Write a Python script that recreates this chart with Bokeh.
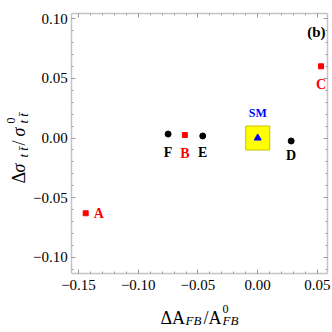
import math
from bokeh.plotting import figure
from bokeh.models import (Range1d, LinearAxis, SingleIntervalTicker,
                          CustomJSTickFormatter, Label, ColumnDataSource)
from bokeh.core.properties import value
from bokeh.embed import file_html
from bokeh.resources import INLINE

# ---------------- data ----------------
red_names = ["A", "B", "C"]
red_dA = [-0.144, -0.061, 0.053]
red_dsig = [-0.063, 0.0025, 0.060]

black_names = ["D", "E", "F"]
black_dA = [0.028, -0.046, -0.075]
black_dsig = [-0.0025, 0.0017, 0.0033]

sm_names = ["SM"]
sm_dA = [0.0]
sm_dsig = [0.0]

# plot box (axis frame) limits
x_box = (-0.1557, 0.0586)
y_box = (-0.1134, 0.1042)
# full canvas extent in data units (frame covers whole canvas)
x_canvas = (-0.2153, 0.0626)
y_canvas = (-0.1628, 0.1151)

# label placement (screen pixels, styling only)
red_dx = [8, 0, 0]
red_dy = [0, 18, 18]
red_align = ["left", "center", "center"]
black_dx = [0, 0, 0]
black_dy = [15, 17, 18]

FONT = "Liberation Serif"
W = H = 332

p = figure(width=W, height=H, output_backend="svg", toolbar_location=None,
           x_range=Range1d(*x_canvas), y_range=Range1d(*y_canvas),
           x_axis_type=None, y_axis_type=None, min_border=0)
p.outline_line_color = None
p.background_fill_color = "white"
p.border_fill_color = "white"

fmt = CustomJSTickFormatter(code="""
    const s = Math.abs(tick).toFixed(2);
    return (tick < -1e-9 ? '\u2212' : '') + s;
""")


def make_axis(show_labels, loc, bounds, standoff=4):
    ax = LinearAxis(ticker=SingleIntervalTicker(interval=0.05, num_minor_ticks=5),
                    formatter=fmt, fixed_location=loc, bounds=bounds,
                    axis_line_color="#c4c4c4", axis_line_width=1.5,
                    major_tick_line_color="#9a9a9a", minor_tick_line_color="#9a9a9a",
                    major_tick_in=4, major_tick_out=0,
                    minor_tick_in=2, minor_tick_out=0,
                    major_label_text_font=FONT,
                    major_label_text_font_size="15px",
                    major_label_text_color="black",
                    major_label_standoff=standoff)
    if not show_labels:
        ax.major_label_text_color = None
    return ax


p.add_layout(make_axis(True, y_box[0], x_box, standoff=7), "below")
p.add_layout(make_axis(True, x_box[0], y_box, standoff=4), "left")
p.add_layout(make_axis(False, y_box[1], x_box), "above")
p.add_layout(make_axis(False, x_box[1], y_box), "right")

# SM highlight box
p.scatter(sm_dA, sm_dsig, marker="square", size=24, fill_color="#ffff00",
          line_color="#c8c000", line_width=1)

# markers
p.scatter(red_dA, red_dsig, marker="square", size=5, fill_color="#ff0000",
          line_color="#ff0000")
p.scatter(black_dA, black_dsig, marker="circle", size=6, fill_color="black",
          line_color="black")
p.scatter(sm_dA, sm_dsig, marker="triangle", size=7, fill_color="#0000ff",
          line_color="#0000ff")

red_src = ColumnDataSource(dict(x=red_dA, y=red_dsig, t=red_names,
                                dx=red_dx, dy=red_dy, al=red_align))
p.text(x="x", y="y", text="t", source=red_src, x_offset="dx", y_offset="dy",
       text_align="al", text_baseline="middle", text_color="#ff0000",
       text_font=value(FONT), text_font_style="bold", text_font_size="14px")

black_src = ColumnDataSource(dict(x=black_dA, y=black_dsig, t=black_names,
                                  dx=black_dx, dy=black_dy))
p.text(x="x", y="y", text="t", source=black_src, x_offset="dx", y_offset="dy",
       text_align="center", text_baseline="middle", text_color="black",
       text_font=value(FONT), text_font_style="bold", text_font_size="14px")

p.text(x=sm_dA, y=sm_dsig, text=sm_names, y_offset=-25,
       text_align="center", text_baseline="middle", text_color="#0000ff",
       text_font=value(FONT), text_font_style="bold", text_font_size="12px")


def txt(x, y_top, t, size, style="normal", angle=0.0, align="left",
        baseline="alphabetic", color="black"):
    # x, y_top in canvas pixels measured from the top-left corner
    p.add_layout(Label(x=x, y=H - y_top, x_units="screen", y_units="screen",
                       text=t, text_font=FONT, text_font_size=f"{size}px",
                       text_font_style=style, angle=angle, text_align=align,
                       text_baseline=baseline, text_color=color))


# panel tag
txt(325, 31, "(b)", 15, style="bold", align="right", baseline="middle")

# x-axis title: ΔA_FB / A^0_FB
txt(160, 317, "ΔA", 18)
txt(185, 320, "FB", 13, style="italic")
txt(203, 317, "/A", 18)
txt(222, 308, "0", 12)
txt(222, 320, "FB", 13, style="italic")

# y-axis title: Δσ_{t t̄} / σ^0_{t t̄}
R = math.pi / 2
txt(18, 183, "Δ", 18, angle=R)
txt(18, 172, "σ", 18, style="italic", angle=R)
txt(23, 157, "t t\u0304", 13, style="italic", angle=R)
txt(18, 145, "/", 18, angle=R)
txt(18, 136, "σ", 18, style="italic", angle=R)
txt(10, 123, "0", 12, angle=R)
txt(23, 123, "t t\u0304", 13, style="italic", angle=R)

open("out.html", "w").write(file_html(p, INLINE))
